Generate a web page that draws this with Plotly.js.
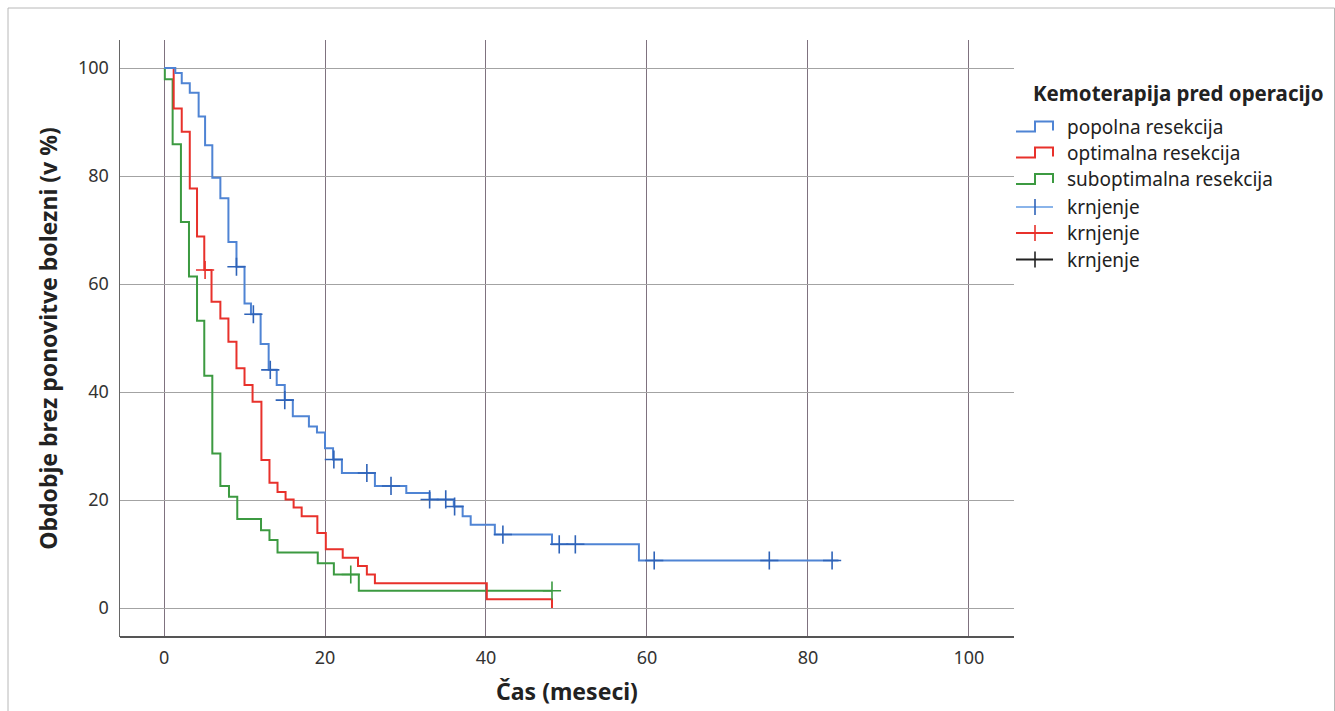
<!DOCTYPE html>
<html>
<head>
<meta charset="utf-8">
<script src="https://cdn.plot.ly/plotly-3.0.1.min.js"></script>
<style>html,body{margin:0;padding:0;background:#fff;}#chart{width:1335px;height:711px;}</style>
</head>
<body>
<div id="chart"></div>
<script>
// ---- Data ----
const seriesNames = ["popolna resekcija", "optimalna resekcija", "suboptimalna resekcija"];
const censorName = "krnjenje";
const legendTitle = "Kemoterapija pred operacijo";

// popolna resekcija (blue)
const bluT = [0, 1.4, 2.2, 3.2, 4.3, 5.1, 6.0, 7.0, 8.0, 9.0, 10.0, 10.8, 12.0, 13.0, 14.0, 15.0, 16.0, 18.0, 19.0, 20.0, 21.0, 22.1, 26.2, 30.1, 33.0, 36.0, 37.1, 38.1, 41.1, 48.2, 59.0, 83.8];
const bluS = [100, 99.1, 97.2, 95.4, 91.0, 85.7, 79.7, 75.9, 67.8, 63.2, 56.4, 54.4, 48.9, 44.1, 41.3, 38.5, 35.5, 33.6, 32.5, 29.6, 27.5, 25.0, 22.6, 21.3, 20.1, 18.8, 17.0, 15.4, 13.6, 11.8, 8.8, 8.8];
const bluCensT = [9.0, 11.1, 13.2, 15.0, 21.1, 25.2, 28.2, 33.0, 35.0, 36.1, 42.1, 49.1, 51.1, 60.9, 75.2, 83.0];
const bluCensS = [63.2, 54.4, 44.1, 38.5, 27.5, 25.0, 22.6, 20.1, 20.1, 18.8, 13.6, 11.8, 11.8, 8.8, 8.8, 8.8];

// optimalna resekcija (red)
const redT = [0, 1.2, 2.2, 3.2, 4.1, 5.0, 5.9, 7.0, 8.0, 9.0, 10.0, 11.0, 12.1, 13.1, 14.1, 15.1, 16.1, 17.1, 19.05, 20.1, 22.2, 24.1, 25.2, 26.2, 40.1, 48.2];
const redS = [100, 92.5, 88.2, 77.7, 68.8, 62.6, 56.7, 53.6, 49.3, 44.4, 41.3, 38.2, 27.4, 23.2, 21.5, 20.1, 18.6, 17.0, 13.9, 10.9, 9.3, 7.8, 6.2, 4.6, 1.6, 0];
const redCensT = [5.1];
const redCensS = [62.6];

// suboptimalna resekcija (green)
const grnT = [0, 0.1, 1.07, 2.1, 3.1, 4.1, 5.0, 6.0, 7.0, 8.07, 9.1, 12.05, 13.1, 14.1, 19.1, 21.1, 24.2, 48.2];
const grnS = [100, 97.9, 85.9, 71.5, 61.4, 53.2, 43.0, 28.6, 22.6, 20.6, 16.5, 14.4, 12.6, 10.3, 8.3, 6.2, 3.2, 3.2];
const grnCensT = [23.2, 48.2];
const grnCensS = [6.2, 3.2];

const xTicks = [0, 20, 40, 60, 80, 100];
const yTicks = [0, 20, 40, 60, 80, 100];
const xTitle = "Čas (meseci)";
const yTitle = "Obdobje brez ponovitve bolezni (v %)";

// ---- Styling ----
const C_BLUE = "#4f84d4", C_BLUE_C = "#2f63b8";
const C_RED = "#e8312b";
const C_GREEN = "#3c9a41";
const FONT = "Noto Sans, sans-serif";

function stepTrace(x, y, color) {
  return {x: x, y: y, type: "scatter", mode: "lines", line: {shape: "hv", color: color, width: 2}, hoverinfo: "skip", showlegend: false};
}
function censTrace(x, y, color) {
  return {x: x, y: y, type: "scatter", mode: "markers", marker: {symbol: "cross-thin", size: 13, line: {color: color, width: 1.6}}, hoverinfo: "skip", showlegend: false};
}

const data = [
  stepTrace(grnT, grnS, C_GREEN),
  stepTrace(redT, redS, C_RED),
  stepTrace(bluT, bluS, C_BLUE),
  censTrace(bluCensT, bluCensS, C_BLUE_C),
  censTrace(redCensT, redCensS, C_RED),
  censTrace(grnCensT, grnCensS, C_GREEN)
];

// plot area in px: x 120..1014, y 40..637
const L = 120, R = 1014, T = 40, B = 637;
const px = v => (v - L) / (R - L);
const py = v => (B - v) / (B - T);

const shapes = [];
const annotations = [];
// outer frame
shapes.push({type: "rect", xref: "paper", yref: "paper", x0: px(8), x1: px(1334.5), y0: py(720), y1: py(8), line: {color: "#b8b8b8", width: 1}});

// legend
annotations.push({xref: "paper", yref: "paper", x: px(1031), y: py(93), xanchor: "left", yanchor: "middle", text: "<b>" + legendTitle + "</b>", showarrow: false, font: {family: FONT, size: 20.5, color: "#222"}});
const legRows = [
  {y: 126.5, color: C_BLUE, label: seriesNames[0], kind: "step"},
  {y: 152.5, color: C_RED, label: seriesNames[1], kind: "step"},
  {y: 179, color: C_GREEN, label: seriesNames[2], kind: "step"},
  {y: 207, color: "#8ab4ea", tick: C_BLUE_C, label: censorName, kind: "cens"},
  {y: 233, color: C_RED, tick: C_RED, label: censorName, kind: "cens"},
  {y: 259.5, color: "#222", tick: "#222", label: censorName, kind: "cens"}
];
legRows.forEach(r => {
  if (r.kind === "step") {
    const lo = r.y + 5, hi = r.y - 5;
    shapes.push({type: "path", xref: "paper", yref: "paper",
      path: `M ${px(1016)},${py(lo)} L ${px(1035)},${py(lo)} L ${px(1035)},${py(hi)} L ${px(1053)},${py(hi)} L ${px(1053)},${py(lo - 1)}`,
      line: {color: r.color, width: 2}});
  } else {
    shapes.push({type: "line", xref: "paper", yref: "paper", x0: px(1016), x1: px(1053), y0: py(r.y), y1: py(r.y), line: {color: r.color, width: 2}});
    shapes.push({type: "line", xref: "paper", yref: "paper", x0: px(1035), x1: px(1035), y0: py(r.y - 8), y1: py(r.y + 8), line: {color: r.tick, width: 1.6}});
  }
  annotations.push({xref: "paper", yref: "paper", x: px(1065), y: py(r.y), xanchor: "left", yanchor: "middle", text: r.label, showarrow: false, font: {family: FONT, size: 19, color: "#222"}});
});

const layout = {
  width: 1335, height: 711,
  margin: {l: L, r: 1335 - R, t: T, b: 711 - B},
  paper_bgcolor: "#fff", plot_bgcolor: "#fff",
  showlegend: false,
  font: {family: FONT, color: "#333"},
  xaxis: {
    range: [-5.47, 105.6], tickvals: xTicks, ticktext: xTicks.map(String),
    showgrid: true, gridcolor: "#7f727f", gridwidth: 1, zeroline: false,
    showline: false, ticks: "", ticklabelstandoff: 8, tickfont: {family: FONT, size: 18, color: "#333"},
    title: {text: "<b>" + xTitle + "</b>", font: {family: FONT, size: 23, color: "#222"}, standoff: 15}
  },
  yaxis: {
    range: [-5.37, 105.19], tickvals: yTicks, ticktext: yTicks.map(String),
    showgrid: true, gridcolor: "#a3a3a3", gridwidth: 1, zeroline: false,
    showline: true, linecolor: "#666", linewidth: 1.5, ticks: "", ticklabelstandoff: 6,
    tickfont: {family: FONT, size: 18, color: "#333"},
    title: {text: "<b>" + yTitle + "</b>", font: {family: FONT, size: 23, color: "#222"}, standoff: 14}
  },
  shapes: shapes.concat([
    {type: "line", xref: "paper", yref: "paper", x0: 0, x1: 1, y0: 0, y1: 0, line: {color: "#555", width: 2}}
  ]),
  annotations: annotations
};

Plotly.newPlot("chart", data, layout, {displayModeBar: false, staticPlot: true});
</script>
</body>
</html>
